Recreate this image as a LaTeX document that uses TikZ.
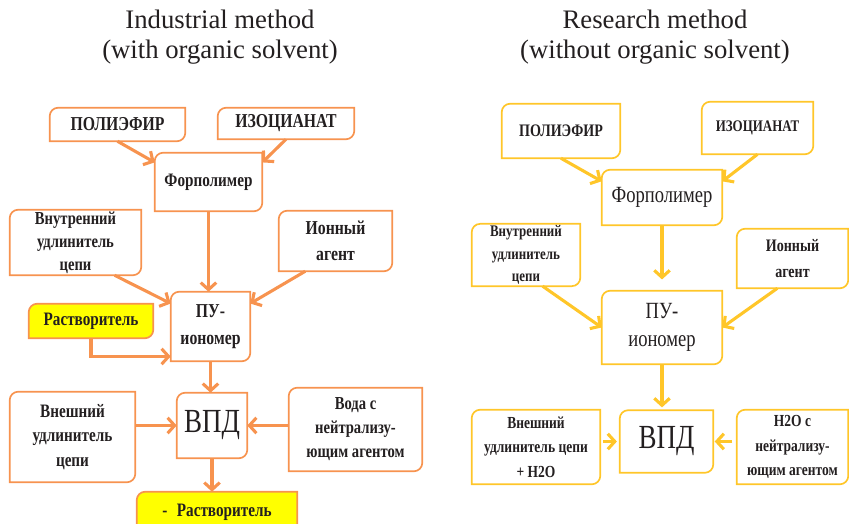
\documentclass[tikz,border=0pt]{standalone}
\usepackage{fontspec}
\setmainfont{Liberation Serif}
\newfontfamily\narrowfont[FakeStretch=0.8]{Liberation Serif}
\usetikzlibrary{arrows.meta, backgrounds}
\definecolor{orng}{HTML}{F7934F}
\definecolor{gold}{HTML}{FFC629}
\definecolor{hilite}{HTML}{FFFF00}
\definecolor{ink}{HTML}{231F20}

\begin{document}
\begin{tikzpicture}[x=0.025cm, y=-0.025cm,
  box/.style={inner sep=1pt, align=center, text=ink},
  arr/.style={-{Straight Barb[length=5pt,width=11pt]}, line width=2.2pt}]
  \useasboundingbox (0,0) rectangle (849,524);
  % Titles
  \node[font=\fontsize{19}{21.3}\selectfont, text=ink, align=center] (ltitle) at (220,37) {Industrial method\\(with organic solvent)};
  \node[font=\fontsize{19}{21.3}\selectfont, text=ink, align=center] (rtitle) at (655,37) {Research method\\(without organic solvent)};
  % Industrial method
  \node[box, minimum width=3.375cm, minimum height=0.825cm, font=\narrowfont\bfseries\fontsize{14}{17}\selectfont] (lpol) at (117.5,124.5) {ПОЛИЭФИР};
  \node[box, minimum width=3.4cm, minimum height=0.775cm, font=\narrowfont\bfseries\fontsize{14}{17}\selectfont] (liso) at (286,123.5) {ИЗОЦИАНАТ};
  \node[box, minimum width=2.675cm, minimum height=1.45cm, font=\narrowfont\bfseries\fontsize{13.5}{17}\selectfont] (lfor) at (208.5,182) {Форполимер};
  \node[box, minimum width=3.275cm, minimum height=1.525cm, font=\narrowfont\bfseries\fontsize{13}{16.5}\selectfont] (lvn) at (75.5,242.5) {Внутренний\\удлинитель\\цепи};
  \node[box, minimum width=2.825cm, minimum height=1.5cm, font=\narrowfont\bfseries\fontsize{14}{18.5}\selectfont] (lion) at (335.5,241) {Ионный\\агент};
  \node[box, minimum width=1.975cm, minimum height=1.725cm, font=\narrowfont\bfseries\fontsize{14}{19}\selectfont] (lpu) at (210.5,326.5) {ПУ-\\иономер};
  \node[box, minimum width=3.1cm, minimum height=0.85cm, font=\narrowfont\bfseries\fontsize{13.5}{17}\selectfont] (lsol) at (91,321) {Растворитель};
  \node[box, minimum width=1.75cm, minimum height=1.625cm, font=\narrowfont\fontsize{24}{28}\selectfont] (lvpd) at (212,425.5) {ВПД};
  \node[box, minimum width=3.125cm, minimum height=2.25cm, font=\narrowfont\bfseries\fontsize{13.5}{17.5}\selectfont] (lvn2) at (72.5,437) {Внешний\\удлинитель\\цепи};
  \node[box, minimum width=3.325cm, minimum height=2.075cm, font=\narrowfont\bfseries\fontsize{13}{17}\selectfont] (lwat) at (355.5,429.5) {Вода с\\нейтрализу-\\ющим агентом};
  \node[box, minimum width=4cm, minimum height=1.0cm, font=\narrowfont\bfseries\fontsize{13.5}{17}\selectfont] (lsol2) at (217,512) {-\enspace Растворитель};
  % Research method
  \node[box, minimum width=2.95cm, minimum height=1.35cm, font=\narrowfont\bfseries\fontsize{12.5}{16}\selectfont] (rpol) at (561,131) {ПОЛИЭФИР};
  \node[box, minimum width=2.775cm, minimum height=1.3cm, font=\narrowfont\bfseries\fontsize{11.5}{16}\selectfont] (riso) at (757.5,128) {ИЗОЦИАНАТ};
  \node[box, minimum width=3cm, minimum height=1.375cm, font=\narrowfont\fontsize{16.5}{20}\selectfont] (rfor) at (662,197.5) {Форполимер};
  \node[box, minimum width=2.7cm, minimum height=1.5cm, font=\narrowfont\bfseries\fontsize{11.5}{16}\selectfont] (rvn) at (526,255) {Внутренний\\удлинитель\\цепи};
  \node[box, minimum width=2.775cm, minimum height=1.475cm, font=\narrowfont\bfseries\fontsize{12.5}{18.5}\selectfont] (rion) at (792.5,258.5) {Ионный\\агент};
  \node[box, minimum width=3cm, minimum height=1.825cm, font=\narrowfont\fontsize{16.5}{20}\selectfont] (rpu) at (662,327.5) {ПУ-\\иономер};
  \node[box, minimum width=2.325cm, minimum height=1.55cm, font=\narrowfont\fontsize{24}{28}\selectfont] (rvpd) at (666.5,441.5) {ВПД};
  \node[box, minimum width=3.2cm, minimum height=1.85cm, font=\narrowfont\bfseries\fontsize{12}{17.5}\selectfont] (rvn2) at (536,447) {Внешний\\удлинитель цепи\\+ H2O};
  \node[box, minimum width=2.775cm, minimum height=1.85cm, font=\narrowfont\bfseries\fontsize{12}{17.5}\selectfont] (rwat) at (792.5,447) {H2O с\\нейтрализу-\\ющим агентом};
  % frames: round top left and bottom right corners
  \begin{scope}[on background layer]
    \foreach \n/\c/\f in {lpol/orng/white, liso/orng/white, lfor/orng/white, lvn/orng/white,
        lion/orng/white, lpu/orng/white, lsol/orng/hilite, lvpd/orng/white, lvn2/orng/white,
        lwat/orng/white, lsol2/orng/hilite, rpol/gold/white, riso/gold/white, rfor/gold/white,
        rvn/gold/white, rion/gold/white, rpu/gold/white, rvpd/gold/white, rvn2/gold/white, rwat/gold/white}
      \filldraw[draw=\c, fill=\f, line width=1.2pt] (\n.west) [rounded corners=6pt] |- (\n.north)
        [sharp corners] -| (\n.east) [rounded corners=6pt] |- (\n.south) [sharp corners] -| (\n.west) -- cycle;
  \end{scope}
  % Industrial arrows
  \draw[arr, orng] (lpol.south) -- (lfor.160);
  \draw[arr, orng] (liso.south) -- (lfor.20);
  \draw[arr, orng] (lfor.south) -- (lfor.south |- lpu.north);
  \draw[arr, orng] (lvn.-40) -- (lpu.150);
  \draw[arr, orng] (lion.-135) -- (lpu.30);
  \draw[arr, orng] (lsol.south) |- (lpu.-143);
  \draw[arr, orng] (lpu.south) -- (lpu.south |- lvpd.north);
  \draw[arr, orng] (lvn2.east |- lvpd.west) -- (lvpd.west);
  \draw[arr, orng] (lwat.west |- lvpd.east) -- (lvpd.east);
  \draw[arr, orng] (lvpd.south) -- (lvpd.south |- lsol2.north);
  % Research arrows
  \draw[arr, gold] (rpol.south) -- (rfor.165);
  \draw[arr, gold] (riso.south) -- (rfor.15);
  \draw[arr, gold, shorten >=8pt] (rfor.south) -- (rpu.north);
  \draw[arr, gold] (rvn.-62) -- (rpu.west);
  \draw[arr, gold] (rion.-117) -- (rpu.east);
  \draw[arr, gold, shorten >=2pt] (rpu.south) -- (rpu.south |- rvpd.north);
  \draw[arr, gold, shorten <=2pt, shorten >=2pt] (rvn2.east |- rvpd.west) -- (rvpd.west);
  \draw[arr, gold, shorten <=3pt, shorten >=1pt] (rwat.west |- rvpd.east) -- (rvpd.east);
\end{tikzpicture}
\end{document}
